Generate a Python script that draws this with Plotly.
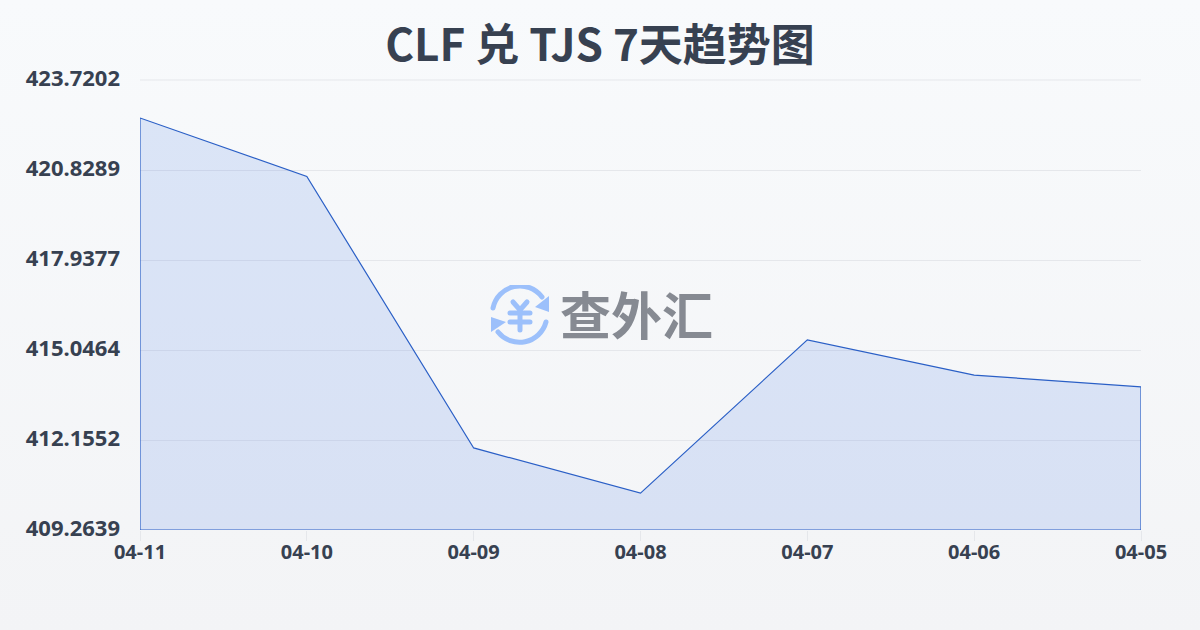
import base64
import plotly.graph_objects as go

dates = ["04-11", "04-10", "04-09", "04-08", "04-07", "04-06", "04-05"]
rates = [422.50, 420.62, 411.90, 410.45, 415.37, 414.24, 413.86]
y_ticks = [423.7202, 420.8289, 417.9377, 415.0464, 412.1552, 409.2639]
y_labels = ["423.7202", "420.8289", "417.9377", "415.0464", "412.1552", "409.2639"]
title = "CLF 兑 TJS 7天趋势图"
watermark = "查外汇"

y_min, y_max = y_ticks[-1], y_ticks[0]

background = """<svg xmlns='http://www.w3.org/2000/svg' width='1200' height='630'>
<defs><linearGradient id='g' x1='0' y1='0' x2='0' y2='1'>
<stop offset='0' stop-color='#f8fafc'/><stop offset='1' stop-color='#f3f4f6'/></linearGradient></defs>
<rect width='1200' height='630' fill='url(#g)'/></svg>"""
icon = """<svg xmlns='http://www.w3.org/2000/svg' width='62' height='62' viewBox='489 285 62 62'>
<g fill='none' stroke='#9cc0fb' stroke-width='5' stroke-linecap='round'>
<path d='M493 308 A27.5 27.5 0 0 1 542 297'/><path d='M546 322 A27.5 27.5 0 0 1 498 332'/>
<path d='M513 302 L520 310 L527 302'/><path d='M510 313 H530 M510 322 H530 M520 310 V330'/></g>
<path d='M549 296 V312 L535 307 Z M491 317 V332 L506 322 Z' fill='#9cc0fb'/></svg>"""


def uri(svg):
    return "data:image/svg+xml;base64," + base64.b64encode(svg.encode()).decode()


closed_x = dates + [dates[-1], dates[0], dates[0]]
closed_y = rates + [y_min, y_min, rates[0]]

fig = go.Figure(
    go.Scatter(
        x=closed_x,
        y=closed_y,
        mode="lines",
        line=dict(color="#2a5fc6", width=1.2),
        fill="toself",
        fillcolor="rgba(59,115,225,0.15)",
        hoverinfo="skip",
        cliponaxis=False,
    )
)

CJK = "Noto Sans CJK SC"
TICK = "Noto Sans"
fig.update_layout(
    width=1200,
    height=630,
    autosize=False,
    margin=dict(l=140, r=59, t=80, b=100),
    paper_bgcolor="#f6f7f9",
    plot_bgcolor="rgba(0,0,0,0)",
    showlegend=False,
    font=dict(family=CJK, color="#374151"),
    title=dict(
        text="<b>" + title + "</b>",
        x=0.5,
        xanchor="center",
        y=0.928,
        yanchor="middle",
        font=dict(family=CJK, size=44, color="#374151"),
    ),
    xaxis=dict(
        type="category",
        categoryorder="array",
        categoryarray=dates,
        range=[0, 6],
        showgrid=False,
        zeroline=False,
        showline=False,
        ticks="outside",
        ticklen=10,
        tickwidth=1,
        tickcolor="#e5e7eb",
        ticklabelstandoff=-6,
        tickfont=dict(family=TICK, size=20, color="#374151", weight=700),
    ),
    yaxis=dict(
        range=[y_min, y_max],
        tickmode="array",
        tickvals=y_ticks,
        ticktext=y_labels,
        showgrid=True,
        gridcolor="#e5e7eb",
        gridwidth=1,
        zeroline=False,
        showline=False,
        ticks="",
        ticklabelstandoff=19,
        ticklabelshift=-2,
        tickfont=dict(family=TICK, size=22, color="#374151", weight=700),
    ),
    shapes=[
        dict(type="line", xref="paper", yref="paper", x0=0, x1=1, y0=1, y1=1,
             line=dict(color="#e5e7eb", width=1), layer="below"),
    ],
    images=[
        dict(source=uri(background), xref="paper", yref="paper", x=-140 / 1001, y=530 / 450,
             sizex=1200 / 1001, sizey=630 / 450, xanchor="left", yanchor="top", sizing="stretch", layer="below"),
        dict(source=uri(icon), xref="paper", yref="paper", x=(489 - 140) / 1001, y=(530 - 285) / 450,
             sizex=62 / 1001, sizey=62 / 450, xanchor="left", yanchor="top", sizing="stretch", layer="above"),
    ],
    annotations=[
        dict(
            text="<b>" + watermark + "</b>",
            xref="paper",
            yref="paper",
            x=(636 - 140) / 1001,
            y=(530 - 313) / 450,
            xanchor="center",
            yanchor="middle",
            showarrow=False,
            font=dict(family=CJK, size=51, color="#868a92"),
        )
    ],
)

fig.write_html(
    "out.html",
    config={"displayModeBar": False},
    post_script="document.body.style.margin='0';document.documentElement.style.background='#f6f7f9';",
)
